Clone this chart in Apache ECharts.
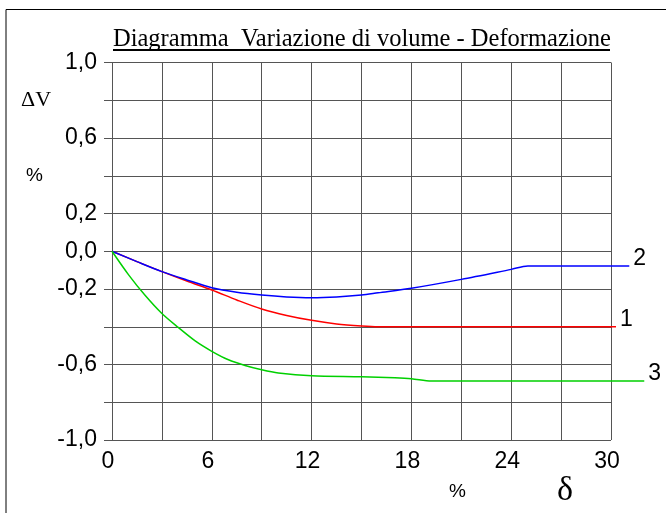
<!DOCTYPE html>
<html>
<head>
<meta charset="utf-8">
<script src="https://cdn.jsdelivr.net/npm/echarts@6/dist/echarts.min.js"></script>
<style>
  html, body { margin: 0; padding: 0; background: #fff; }
  #chart { width: 666px; height: 513px; }
</style>
</head>
<body>
<div id="chart"></div>
<script>
// curva 1 (rossa), 2 (blu), 3 (verde): [deformazione %, variazione di volume %]
const curve1 = [[0, 0], [1.5, -0.055], [3, -0.108], [4.5, -0.158], [6, -0.205], [7.5, -0.258],
  [9, -0.306], [10.5, -0.34], [12, -0.366], [13.5, -0.385], [15, -0.396], [16, -0.4], [30.3, -0.4]];
const curve2 = [[0, 0], [1.5, -0.055], [3, -0.108], [4.5, -0.152], [6, -0.193], [7.5, -0.217],
  [9, -0.232], [10.5, -0.242], [12, -0.246], [13.5, -0.242], [15, -0.232], [16, -0.22],
  [18, -0.196], [21, -0.149], [24, -0.096], [25, -0.078], [31.1, -0.078]];
const curve3 = [[0, 0], [1, -0.125], [2, -0.235], [3, -0.33], [4, -0.405], [5, -0.475],
  [6, -0.53], [7, -0.575], [8, -0.605], [9, -0.628], [10, -0.645], [12, -0.66], [15, -0.665],
  [17, -0.67], [18, -0.675], [19.2, -0.688], [32, -0.688]];
const seriesNames = ['1', '2', '3'];
const seriesColors = ['#ff0000', '#0000ff', '#00d000'];
const yLabelsShown = ['1,0', '0,6', '0,2', '0,0', '-0,2', '-0,6', '-1,0'];
const xLabelStep = 6;

const myChart = echarts.init(document.getElementById('chart'));
const gridColor = '#555';
const numFont = 'Liberation Sans, Arial, sans-serif';
const serifFont = 'Liberation Serif, Times New Roman, serif';

// the curves run past 30 %, so they sit on a second, wider grid with the same scale
const plotLeft = 112, plotWidth = 499, xMax = 30, xMaxExt = 33;
const extRight = 666 - plotLeft - plotWidth * xMaxExt / xMax;

let series = [curve1, curve2, curve3].map((d, i) => ({
  name: seriesNames[i],
  type: 'line',
  xAxisIndex: 1,
  yAxisIndex: 1,
  data: d,
  smooth: 0.3,
  showSymbol: false,
  lineStyle: { color: seriesColors[i], width: 1.5 },
  itemStyle: { color: seriesColors[i] },
  endLabel: {
    show: true,
    formatter: '{a}',
    distance: 4,
    offset: [0, -7],
    color: '#000',
    fontFamily: numFont,
    fontSize: 23
  }
}));

let option = {
  animation: false,
  backgroundColor: '#fff',
  grid: [
    { left: plotLeft, right: 666 - plotLeft - plotWidth, top: 62.5, bottom: 73, containLabel: false },
    { left: plotLeft, right: extRight, top: 62.5, bottom: 73, containLabel: false }
  ],
  xAxis: [{
    type: 'value',
    gridIndex: 0,
    min: 0,
    max: xMax,
    interval: 3,
    axisLine: { show: true, lineStyle: { color: gridColor, width: 1 } },
    axisTick: { show: true, length: 7, lineStyle: { color: gridColor } },
    splitLine: { show: true, lineStyle: { color: gridColor, width: 1 } },
    axisLabel: {
      margin: 10,
      color: '#000',
      fontFamily: numFont,
      fontSize: 23,
      padding: [0, 8, 0, 0],
      formatter: v => (v % xLabelStep === 0 ? String(v) : '')
    }
  }, {
    type: 'value',
    gridIndex: 1,
    min: 0,
    max: xMaxExt,
    show: false
  }],
  yAxis: [{
    type: 'value',
    gridIndex: 0,
    min: -1,
    max: 1,
    interval: 0.2,
    axisLine: { show: true, lineStyle: { color: gridColor, width: 1 } },
    axisTick: { show: true, length: 8, lineStyle: { color: gridColor } },
    splitLine: { show: true, lineStyle: { color: gridColor, width: 1 } },
    axisLabel: {
      margin: 15,
      color: '#000',
      fontFamily: numFont,
      fontSize: 23,
      formatter: v => {
        if (Math.abs(v) < 1e-9) v = 0;
        const s = v.toFixed(1).replace('.', ',');
        return yLabelsShown.includes(s) ? s : '';
      }
    }
  }, {
    type: 'value',
    gridIndex: 1,
    min: -1,
    max: 1,
    show: false
  }],
  graphic: [
    // cornice
    { type: 'line', shape: { x1: 6, y1: 9.5, x2: 666, y2: 9.5 }, style: { stroke: '#000', lineWidth: 1 } },
    { type: 'line', shape: { x1: 6, y1: 9.5, x2: 6, y2: 513 }, style: { stroke: '#000', lineWidth: 1 } },
    {
      type: 'text', left: 113, top: 27.5,
      style: { text: 'Diagramma  Variazione di volume - Deformazione', fill: '#000', font: '24.5px ' + serifFont }
    },
    { type: 'line', shape: { x1: 113, y1: 50, x2: 610, y2: 50 }, style: { stroke: '#000', lineWidth: 2 } },
    { type: 'text', left: 21, top: 89, style: { text: 'ΔV', fill: '#000', font: '22px ' + serifFont } },
    { type: 'text', left: 26, top: 166, style: { text: '%', fill: '#000', font: '19px ' + numFont } },
    { type: 'text', left: 449, top: 482, style: { text: '%', fill: '#000', font: '19px ' + numFont } },
    { type: 'text', left: 557, top: 474, style: { text: 'δ', fill: '#000', font: '34px ' + serifFont } }
  ],
  series: series
};

myChart.setOption(option);
</script>
</body>
</html>
